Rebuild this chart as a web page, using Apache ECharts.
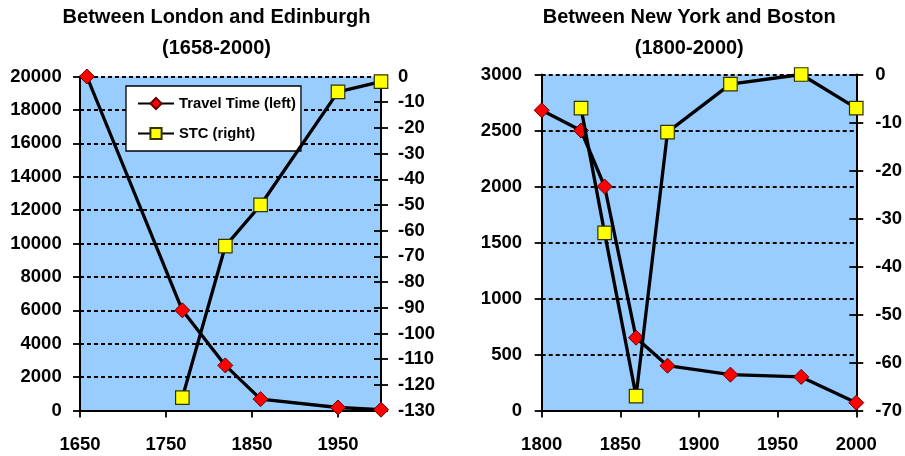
<!DOCTYPE html>
<html><head><meta charset="utf-8">
<script src="https://cdn.jsdelivr.net/npm/echarts@6/dist/echarts.min.js"></script>
<style>html,body{margin:0;padding:0;background:#fff}#c{width:905px;height:456px}</style>
</head><body><div id="c"></div>
<script>
// ---- data ----
const ukYears = [1658, 1769, 1819, 1860, 1950, 2000];
const ukTravelTime = [20000, 6000, 2700, 680, 180, 50];
const ukStcYears = [1769, 1819, 1860, 1950, 2000];
const ukStc = [-125, -66, -50, -6, -2];

const usYears = [1800, 1825, 1840, 1860, 1880, 1920, 1965, 2000];
const usTravelTime = [2680, 2500, 2000, 650, 400, 320, 300, 70];
const usStcYears = [1825, 1840, 1860, 1880, 1920, 1965, 2000];
const usStc = [-7, -33, -67, -12, -2, 0, -7];

const ukXTicks = [1650, 1750, 1850, 1950];
const usXTicks = [1800, 1850, 1900, 1950, 2000];

const titleUK = ['Between London and Edinburgh', '(1658-2000)'];
const titleUS = ['Between New York and Boston', '(1800-2000)'];
const seriesNames = ['Travel Time (left)', 'STC (right)'];

// ---- helpers ----
const FF = '"Liberation Sans", Arial, sans-serif';
const pair = (xs, ys) => xs.map((x, i) => [x, ys[i]]);
const lab = (margin) => ({ color: '#000', fontFamily: FF, fontWeight: 'bold', fontSize: 18.5, margin: margin, formatter: v => String(v) });
const blackLine = { show: true, lineStyle: { color: '#000', width: 2 } };
const grid = { color: '#000', width: 1.8, type: [4, 3] };
const tickStyle = { color: '#000', width: 1.8 };

function xAxis(gi, min, max, ticks) {
  return {
    type: 'value', gridIndex: gi, min: min, max: max, interval: 50,
    axisLine: Object.assign({ onZero: false }, blackLine),
    axisTick: { show: true, inside: false, length: 7, lineStyle: tickStyle, customValues: ticks },
    axisLabel: Object.assign(lab(25), { customValues: ticks }),
    splitLine: { show: false }
  };
}
function yLeft(gi, max, interval, margin) {
  return {
    type: 'value', gridIndex: gi, position: 'left', min: 0, max: max, interval: interval,
    axisLine: Object.assign({ onZero: false }, blackLine),
    axisTick: { show: true, inside: false, length: 7, lineStyle: tickStyle },
    axisLabel: lab(margin),
    splitLine: { show: true, lineStyle: grid }
  };
}
function yRight(gi, min, margin) {
  return {
    type: 'value', gridIndex: gi, position: 'right', min: min, max: 0, interval: 10,
    axisLine: Object.assign({ onZero: false }, blackLine),
    axisTick: { show: true, inside: false, length: 7, lineStyle: tickStyle },
    axisLabel: lab(margin),
    splitLine: { show: false }
  };
}
function yRightInner(gi, min) {
  return {
    type: 'value', gridIndex: gi, position: 'right', min: min, max: 0, interval: 10,
    axisLine: { show: false },
    axisTick: { show: true, inside: true, length: 7, lineStyle: tickStyle },
    axisLabel: { show: false },
    splitLine: { show: false }
  };
}
function travel(xi, yi, data) {
  return {
    name: seriesNames[0], type: 'line', xAxisIndex: xi, yAxisIndex: yi, data: data, clip: false,
    symbol: 'diamond', symbolSize: 15,
    lineStyle: { color: '#000', width: 3.3 },
    itemStyle: { color: '#FF0000', borderColor: '#600000', borderWidth: 1 },
    z: 3
  };
}
function stc(xi, yi, data) {
  return {
    name: seriesNames[1], type: 'line', xAxisIndex: xi, yAxisIndex: yi, data: data, clip: false,
    symbol: 'rect', symbolSize: 13.5,
    lineStyle: { color: '#000', width: 3.3 },
    itemStyle: { color: '#FFFF00', borderColor: '#333300', borderWidth: 1.2 },
    z: 4
  };
}
function titleText(lines, cx) {
  const f = 'bold 20px ' + FF;
  return [
    { type: 'text', style: { text: lines[0], x: cx, y: 17, textAlign: 'center', textVerticalAlign: 'middle', font: f, fill: '#000' } },
    { type: 'text', style: { text: lines[1], x: cx, y: 48, textAlign: 'center', textVerticalAlign: 'middle', font: f, fill: '#000' } }
  ];
}

const chart = echarts.init(document.getElementById('c'), null, { renderer: 'canvas' });
chart.setOption({
  animation: false,
  backgroundColor: '#fff',
  graphic: titleText(titleUK, 216.5).concat(titleText(titleUS, 689.3)),
  grid: [
    { left: 80, top: 76.5, width: 301, height: 334, show: true, backgroundColor: '#99CCFF', borderWidth: 0 },
    { left: 541.7, top: 74.5, width: 322, height: 336, show: true, backgroundColor: '#99CCFF', borderWidth: 0 }
  ],
  legend: {
    orient: 'vertical', left: 126, top: 86,
    backgroundColor: '#fff', borderColor: '#000', borderWidth: 1.3,
    padding: [10, 5, 10, 11], itemGap: 15, itemWidth: 36, itemHeight: 14,
    textStyle: { color: '#000', fontFamily: FF, fontWeight: 'bold', fontSize: 14.75 },
    data: seriesNames, selectedMode: false
  },
  xAxis: [xAxis(0, 1650, 2000, ukXTicks), xAxis(1, 1800, 2000, usXTicks)],
  yAxis: [
    yLeft(0, 20000, 2000, 18.3), yRight(0, -130, 17), yRightInner(0, -130),
    yLeft(1, 3000, 500, 19.7), yRight(1, -70, 19), yRightInner(1, -70)
  ],
  series: [
    travel(0, 0, pair(ukYears, ukTravelTime)),
    stc(0, 1, pair(ukStcYears, ukStc)),
    travel(1, 3, pair(usYears, usTravelTime)),
    stc(1, 4, pair(usStcYears, usStc))
  ]
});
</script></body></html>
